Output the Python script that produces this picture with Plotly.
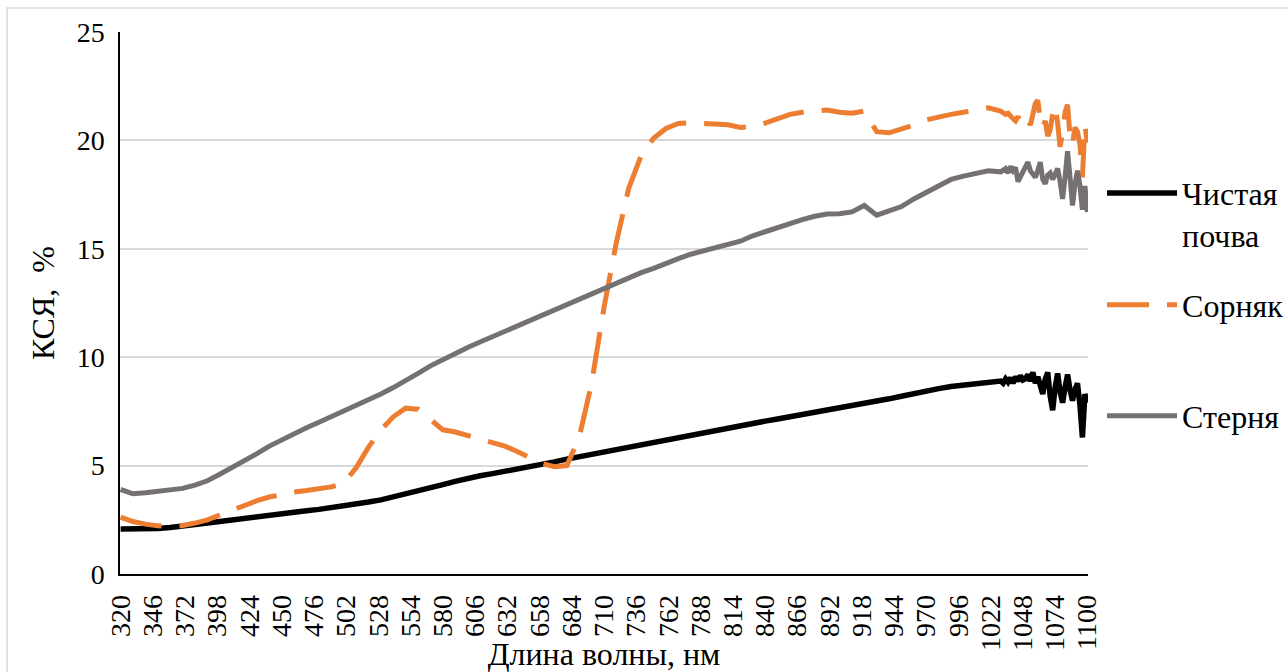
import plotly.graph_objects as go

# ---------------- data ----------------
wavelength = [320, 330, 340, 350, 360, 370, 380, 390, 400, 410, 420, 430, 440, 450, 460, 470,
              480, 490, 500, 510, 520, 530, 540, 550, 560, 570, 580, 590, 600, 610, 620, 630,
              640, 650, 660, 670, 680, 690, 700, 710, 720, 730, 740, 750, 760, 770, 780, 790,
              800, 810, 820, 830, 840, 850, 860, 870, 880, 890, 900, 910, 920, 930, 940, 950,
              960, 970, 980, 990, 1000, 1010, 1020, 1030,
              1032, 1034, 1036, 1038, 1040, 1042, 1044, 1046, 1048, 1050, 1052, 1054, 1056,
              1058, 1060, 1062, 1064, 1066, 1068, 1070, 1072, 1074, 1076, 1078, 1080, 1082,
              1084, 1086, 1088, 1090, 1092, 1094, 1096, 1098, 1100]

clean_soil = [2.08, 2.07, 2.06, 2.10, 2.15, 2.20, 2.28, 2.35, 2.42, 2.50, 2.57, 2.65, 2.72, 2.80, 2.86, 2.92,
              2.98, 3.05, 3.12, 3.22, 3.32, 3.42, 3.55, 3.68, 3.82, 3.97, 4.12, 4.27, 4.42, 4.53, 4.63, 4.73,
              4.83, 4.94, 5.05, 5.17, 5.30, 5.41, 5.52, 5.63, 5.74, 5.86, 5.98, 6.10, 6.22, 6.34, 6.45, 6.56,
              6.66, 6.76, 6.86, 6.96, 7.05, 7.15, 7.25, 7.34, 7.44, 7.54, 7.63, 7.75, 7.85, 7.95, 8.08, 8.20,
              8.33, 8.45, 8.55, 8.65, 8.72, 8.80, 8.85, 8.90,
              8.80, 9.00, 8.85, 9.05, 8.80, 9.10, 8.90, 9.15, 8.95, 9.00, 9.20, 8.90, 9.30,
              8.80, 9.10, 8.60, 8.30, 9.00, 9.30, 8.20, 7.55, 8.60, 9.25, 8.40, 7.90, 8.60,
              9.20, 8.50, 8.00, 8.50, 8.80, 7.80, 6.30, 8.30, 7.90]

weed = [2.62, 2.42, 2.30, 2.22, 2.20, 2.24, 2.35, 2.50, 2.72, 2.95, 3.18, 3.38, 3.55, 3.68, 3.78, 3.85,
        3.92, 4.02, 4.18, 4.90, 5.85, 6.65, 7.25, 7.65, 7.60, 7.10, 6.65, 6.55, 6.40, 6.20, 6.05, 5.90,
        5.65, 5.35, 5.10, 4.95, 5.00, 6.30, 8.80, 12.30, 15.30, 17.80, 19.30, 20.10, 20.55, 20.78, 20.82, 20.78,
        20.75, 20.72, 20.60, 20.65, 20.80, 21.00, 21.20, 21.30, 21.35, 21.40, 21.30, 21.25, 21.35, 20.40, 20.35, 20.50,
        20.70, 20.95, 21.10, 21.20, 21.30, 21.40, 21.50, 21.35,
        21.30, 21.20, 21.25, 21.10, 21.00, 20.90, 21.10, 20.85, 20.90, 20.80, 21.00, 20.70, 21.30,
        21.70, 21.85, 20.90, 20.60, 20.90, 20.20, 20.50, 21.20, 21.60, 20.80, 19.70, 20.40, 21.30,
        21.65, 20.20, 19.80, 20.60, 20.40, 19.80, 18.30, 20.70, 19.90]

stubble = [3.90, 3.70, 3.75, 3.80, 3.85, 3.95, 4.10, 4.30, 4.60, 4.90, 5.20, 5.55, 5.90, 6.20, 6.50, 6.75,
           7.00, 7.25, 7.50, 7.78, 8.05, 8.30, 8.60, 8.90, 9.25, 9.60, 9.90, 10.15, 10.45, 10.70, 10.95, 11.20,
           11.45, 11.70, 11.95, 12.20, 12.45, 12.70, 12.95, 13.15, 13.40, 13.65, 13.90, 14.10, 14.35, 14.55, 14.75, 14.90,
           15.05, 15.20, 15.35, 15.60, 15.80, 16.00, 16.20, 16.35, 16.50, 16.60, 16.62, 16.70, 17.00, 16.55, 16.75, 16.95,
           17.30, 17.60, 17.95, 18.20, 18.35, 18.45, 18.60, 18.55,
           18.60, 18.70, 18.50, 18.80, 18.60, 18.75, 18.10, 18.30, 18.50, 18.70, 19.00, 18.60, 18.40,
           18.30, 18.60, 19.00, 18.20, 18.00, 18.40, 18.50, 18.20, 18.50, 18.70, 18.10, 17.30, 18.30,
           19.50, 18.30, 17.00, 18.00, 18.60, 17.90, 16.80, 17.90, 16.70]

x_tick_labels = [320, 346, 372, 398, 424, 450, 476, 502, 528, 554, 580, 606, 632, 658, 684, 710,
                 736, 762, 788, 814, 840, 866, 892, 918, 944, 970, 996, 1022, 1048, 1074, 1100]
y_tick_labels = [0, 5, 10, 15, 20, 25]

series_names = ["Чистая<br>почва", "Сорняк", "Стерня"]

# ---------------- figure ----------------
FONT = "Liberation Serif"
TICK_FS = 28
TITLE_FS = 32
LEG_FS = 32

fig = go.Figure()
fig.add_trace(go.Scatter(x=wavelength, y=clean_soil, mode="lines", name=series_names[0],
                         line=dict(color="#000000", width=5.5), legend="legend"))
fig.add_trace(go.Scatter(x=wavelength, y=weed, mode="lines", name=series_names[1],
                         line=dict(color="#ED7D31", width=5, dash="42px,18px"), legend="legend2"))
fig.add_trace(go.Scatter(x=wavelength, y=stubble, mode="lines", name=series_names[2],
                         line=dict(color="#767171", width=5), legend="legend3"))


def leg(y, **kw):
    return dict(font=dict(family=FONT, size=LEG_FS, color="#000000"), bgcolor="rgba(0,0,0,0)",
                itemwidth=70, xanchor="left", x=1.0145, y=y, yanchor="middle", **kw)


fig.update_layout(
    width=1288, height=672,
    margin=dict(l=120, r=200, t=32, b=98, autoexpand=False),
    paper_bgcolor="white", plot_bgcolor="white",
    font=dict(family=FONT, size=TICK_FS, color="#000000"),
    showlegend=True,
    legend=leg(0.664, valign="top"),
    legend2=leg(0.4963),
    legend3=leg(0.2915),
    xaxis=dict(range=[319.5, 1100.5], tickmode="array", tickvals=x_tick_labels,
               ticktext=[str(v) for v in x_tick_labels], tickangle=-90,
               tickfont=dict(family=FONT, size=TICK_FS), automargin=False,
               showgrid=False, zeroline=False, showline=True, linecolor="#000000", linewidth=1.5,
               ticks="", ticklabelstandoff=8,
               title=dict(text="Длина волны, нм", standoff=2,
                          font=dict(family=FONT, size=TITLE_FS))),
    yaxis=dict(range=[0, 25], tickmode="array", tickvals=y_tick_labels,
               tickfont=dict(family=FONT, size=TICK_FS), automargin=False,
               showgrid=True, gridcolor="#d9d9d9", gridwidth=1.5, zeroline=False,
               showline=True, linecolor="#000000", linewidth=1.5, ticks="", ticklabelstandoff=8,
               title=dict(text="КСЯ,  %", standoff=12, font=dict(family=FONT, size=TITLE_FS))),
    shapes=[dict(type="rect", xref="paper", yref="paper",
                 x0=-0.1167, x1=1.25, y0=-0.3, y1=1.0443,
                 line=dict(color="#d9d9d9", width=1.5), fillcolor="rgba(0,0,0,0)", layer="below")],
)

fig.write_html("out.html")
